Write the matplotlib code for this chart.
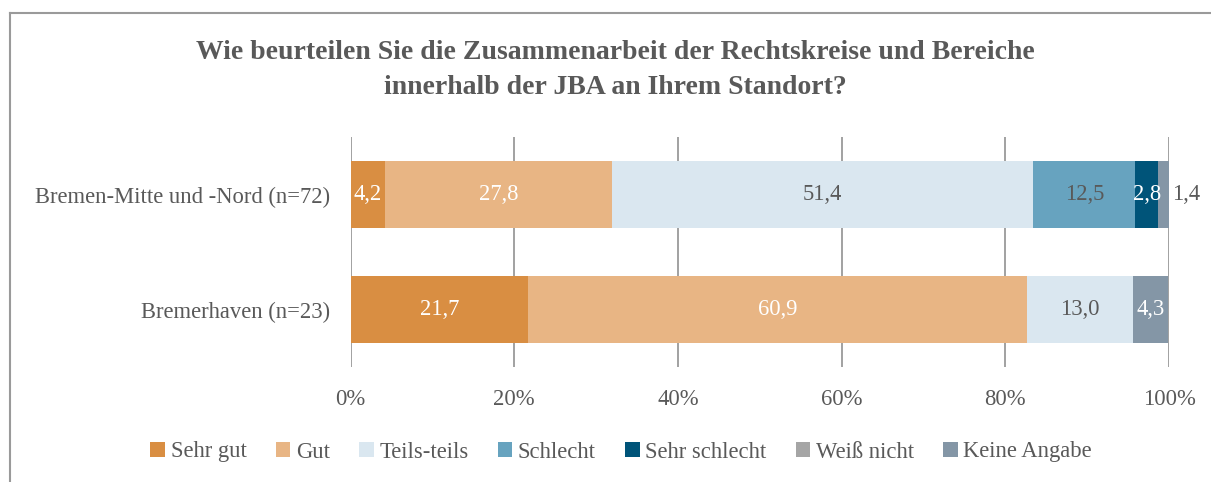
import numpy as np
import matplotlib
matplotlib.use("Agg")
import matplotlib.pyplot as plt
from matplotlib.lines import Line2D

# Daten
standorte = ["Bremerhaven (n=23)", "Bremen-Mitte und -Nord (n=72)"]
kategorien = ["Sehr gut", "Gut", "Teils-teils", "Schlecht", "Sehr schlecht", "Weiß nicht", "Keine Angabe"]
werte_bremerhaven = [21.7, 60.9, 13.0, 0.0, 0.0, 0.0, 4.3]
werte_bremen = [4.2, 27.8, 51.4, 12.5, 2.8, 0.0, 1.4]
farben = ["#D98E42", "#E8B584", "#DAE7F0", "#67A3BF", "#005479", "#A5A5A5", "#8496A6"]
textfarben = ["white", "white", "#595959", "#595959", "white", "white", "white"]

plt.rcParams["font.family"] = ["Liberation Serif", "DejaVu Serif"]
grau = "#595959"
fs = 16.3

fig = plt.figure(figsize=(12.11, 4.82), dpi=100)
ax = fig.add_axes([350.5 / 1211, 1 - 367 / 482, (1169 - 350.5) / 1211, 230 / 482])

daten = np.array([werte_bremerhaven, werte_bremen])
y = np.arange(len(standorte))
links = np.zeros(len(standorte))
for i, kat in enumerate(kategorien):
    w = daten[:, i]
    ax.barh(y, w, left=links, height=0.574, color=farben[i], label=kat, zorder=3)
    for j in range(len(standorte)):
        if w[j] <= 0:
            continue
        txt = f"{w[j]:.1f}".replace(".", ",")
        if w[j] < 2:
            # kleiner Wert rechts neben dem Balken
            ax.text(links[j] + w[j] + 0.3, y[j], txt, ha="left", va="center",
                    color=grau, fontsize=fs, zorder=4)
        else:
            ax.text(links[j] + w[j] / 2, y[j], txt, ha="center", va="center",
                    color=textfarben[i], fontsize=fs, zorder=4)
    links += w

ax.set_xlim(0, 100)
ax.set_ylim(-0.5, 1.5)
ax.set_xticks(np.arange(0, 101, 20))
ax.set_xticklabels([f"{t}%" for t in range(0, 101, 20)])
ax.xaxis.grid(True, color="#9A9A9A", linewidth=1.3, zorder=0)
ax.set_yticks(y)
ax.set_yticklabels(standorte)
ax.tick_params(axis="both", length=0, labelsize=fs, labelcolor=grau)
ax.tick_params(axis="x", pad=16)
ax.tick_params(axis="y", pad=15)
for s in ax.spines.values():
    s.set_visible(False)

fig.text(0.508, 1 - 70 / 482, "Wie beurteilen Sie die Zusammenarbeit der Rechtskreise und Bereiche\ninnerhalb der JBA an Ihrem Standort?",
         ha="center", va="center", fontsize=20, fontweight="bold", color=grau, linespacing=1.55)

leg = fig.legend(loc="center", bbox_to_anchor=(0.513, 1 - 452 / 482), ncol=7, frameon=False,
                 fontsize=fs, handlelength=0.65, handleheight=0.65, handletextpad=0.25,
                 columnspacing=1.28)
for t in leg.get_texts():
    t.set_color(grau)

# Rahmen (nur links und oben sichtbar)
fig.add_artist(Line2D([10.5 / 1211, 10.5 / 1211], [0, 1 - 12.5 / 482], transform=fig.transFigure,
                      color="#9A9A9A", linewidth=1.5))
fig.add_artist(Line2D([10.5 / 1211, 1], [1 - 12.5 / 482, 1 - 12.5 / 482], transform=fig.transFigure,
                      color="#9A9A9A", linewidth=1.5))

fig.savefig("out.png", dpi=100)
